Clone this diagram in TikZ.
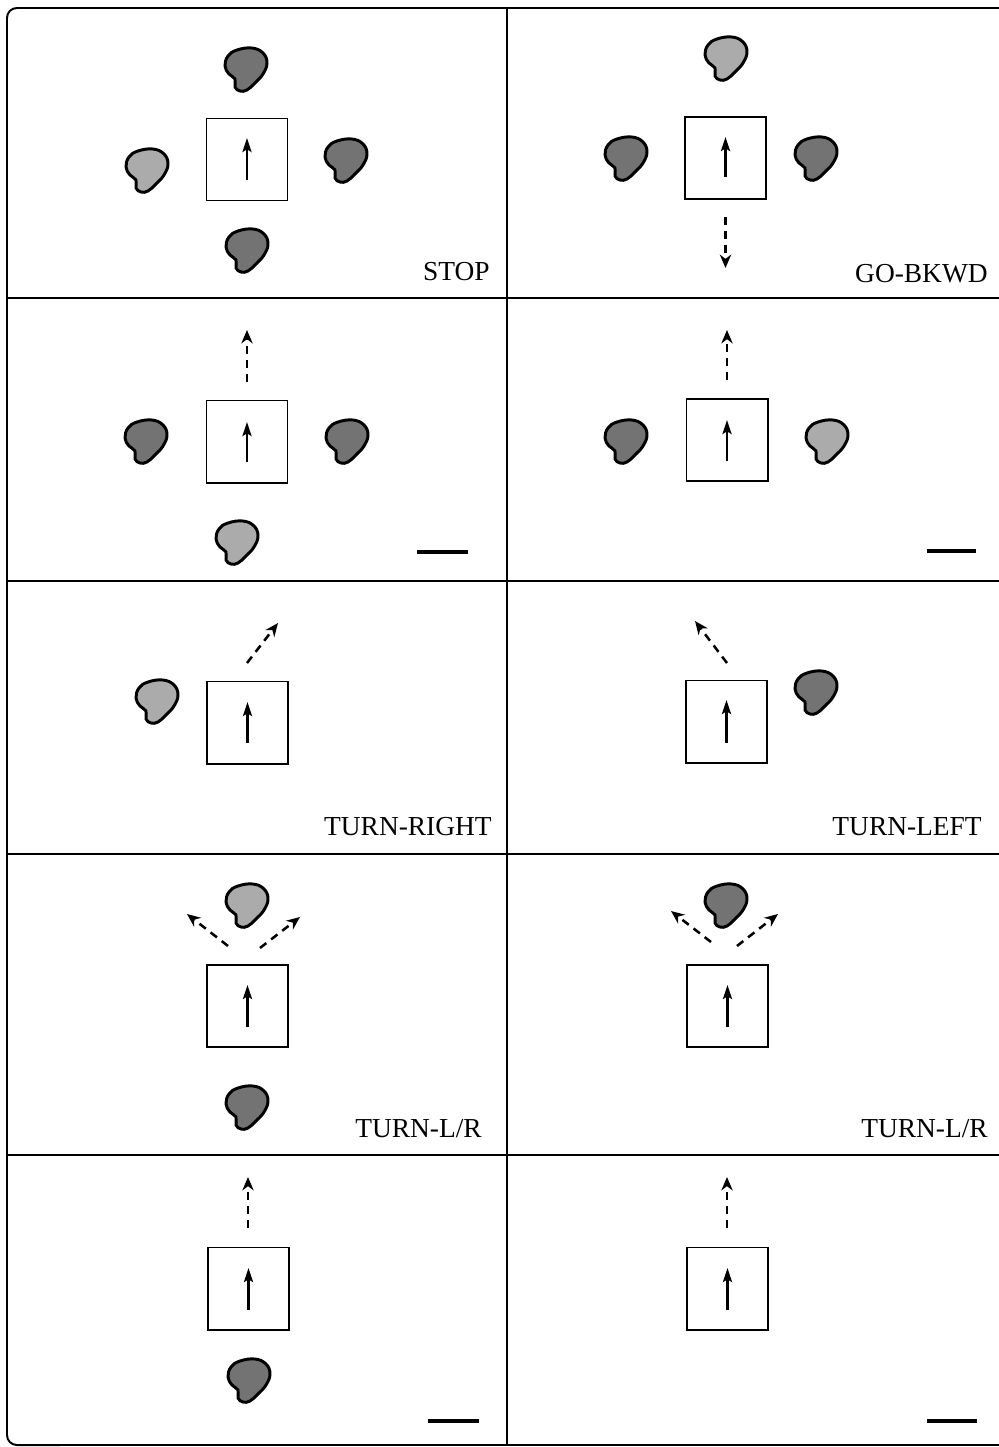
\documentclass[tikz,border=0pt]{standalone}
\usepackage{fontspec}
\setmainfont{Liberation Serif}
\usetikzlibrary{arrows.meta,calc}
\colorlet{dk}{black!55}
\colorlet{lt}{black!33}
\tikzset{
  pics/blob/.style={code={
    \draw[line width=2.1pt, fill=#1]
      plot[smooth cycle, tension=0.7] coordinates {(-9,-19) (6,-21) (17,-16) (21,-6) (17,5) (9,14) (1,21) (-6,22) (-11,18) (-11,10) (-17,5) (-21,-3) (-18,-13)};
  }},
  pics/blob/.default=dk,
  sq/.style={draw, line width=1.4pt, minimum width=2.025cm, minimum height=2.05cm, inner sep=0pt},
  inarrow/.style={line width=1.8pt, -{Stealth[length=10pt,width=6.5pt,inset=2pt]}},
  dasharrow/.style={line width=1.8pt, dash pattern=on 5.7pt off 4.3pt, -{Stealth[length=9.5pt,width=8pt,inset=3pt]}},
  frame/.style={line width=1.4pt},
  scalebar/.style={line width=2.2pt},
  lab/.style={anchor=base east, inner sep=0pt, font=\fontsize{19.5pt}{22pt}\selectfont}
}
\begin{document}
\begin{tikzpicture}[x=0.025cm, y=-0.025cm]
\useasboundingbox (0,0) rectangle (999,1447);
% frame
\draw[frame, rounded corners=7pt] (60,8) -- (7,8) -- (7,1445) -- (60,1445);
\draw[frame] (59,8) -- (999,8);
\draw[frame] (59,1445) -- (999,1445);
\draw[frame] (7,298) -- (999,298);
\draw[frame] (7,581) -- (999,581);
\draw[frame] (7,854) -- (999,854);
\draw[frame] (7,1155) -- (999,1155);
\draw[frame] (507,8) -- (507,1445);

% Panel A: STOP
\node[sq] (sqA) at (247,159.5) {};
\draw[inarrow] ($(sqA.center)+(0,20.5)$) -- ($(sqA.center)+(0,-21.5)$);
\pic at (246,69) {blob=dk};
\pic at (147,170) {blob=lt};
\pic at (346,160) {blob=dk};
\pic at (247,250) {blob=dk};
\node[lab] (tA) at (490,280) {STOP};

% Panel B: GO-BKWD
\node[sq] (sqB) at (725.5,158) {};
\draw[inarrow] ($(sqB.center)+(0,19)$) -- ($(sqB.center)+(0,-21)$);
\pic at (726,58) {blob=lt};
\pic at (626,158) {blob=dk};
\pic at (816,158) {blob=dk};
\coordinate (bS) at (725.5,217);
\coordinate (bE) at (725.5,268);
\draw[dasharrow] (bS) -- (bE);
\node[lab] (tB) at (988,282) {GO-BKWD};

% Panel C
\node[sq] (sqC) at (247,441.5) {};
\draw[inarrow] ($(sqC.center)+(0,20.5)$) -- ($(sqC.center)+(0,-19.5)$);
\pic at (146,441) {blob=dk};
\pic at (347,441) {blob=dk};
\pic at (237,542) {blob=lt};
\coordinate (cS) at (247,382);
\coordinate (cE) at (247,330);
\draw[dasharrow] (cS) -- (cE);
\coordinate (cb1) at (417,552);
\coordinate (cb2) at (468,552);
\draw[scalebar] (cb1) -- (cb2);

% Panel D
\node[sq] (sqD) at (727,440) {};
\draw[inarrow] ($(sqD.center)+(0,21)$) -- ($(sqD.center)+(0,-20)$);
\pic at (626,441) {blob=dk};
\pic at (827,441) {blob=lt};
\coordinate (dS) at (727,380);
\coordinate (dE) at (727,330);
\draw[dasharrow] (dS) -- (dE);
\coordinate (db1) at (927,551);
\coordinate (db2) at (976,551);
\draw[scalebar] (db1) -- (db2);

% Panel E: TURN-RIGHT
\node[sq] (sqE) at (247.5,722.5) {};
\draw[inarrow] ($(sqE.center)+(0,20.5)$) -- ($(sqE.center)+(0,-20.5)$);
\pic at (157,701) {blob=lt};
\coordinate (eS) at (247,663);
\coordinate (eE) at (278,623);
\draw[dasharrow] (eS) -- (eE);
\node[lab] (tE) at (492,835) {TURN-RIGHT};

% Panel F: TURN-LEFT
\node[sq] (sqF) at (726.5,721.5) {};
\draw[inarrow] ($(sqF.center)+(0,21.5)$) -- ($(sqF.center)+(0,-21.5)$);
\pic at (816,692) {blob=dk};
\coordinate (fS) at (727,663);
\coordinate (fE) at (695,621);
\draw[dasharrow] (fS) -- (fE);
\node[lab] (tF) at (982,835) {TURN-LEFT};

% Panel G: TURN-L/R
\node[sq] (sqG) at (247.5,1006) {};
\draw[inarrow] ($(sqG.center)+(0,21)$) -- ($(sqG.center)+(0,-21)$);
\pic at (247,905) {blob=lt};
\pic at (247,1107) {blob=dk};
\coordinate (g1S) at (228,946);
\coordinate (g1E) at (187,914);
\coordinate (g2S) at (260,948);
\coordinate (g2E) at (300,917);
\draw[dasharrow] (g1S) -- (g1E);
\draw[dasharrow] (g2S) -- (g2E);
\node[lab] (tG) at (482,1137) {TURN-L/R};

% Panel H: TURN-L/R
\node[sq] (sqH) at (727.5,1006) {};
\draw[inarrow] ($(sqH.center)+(0,21)$) -- ($(sqH.center)+(0,-21)$);
\pic at (726,905) {blob=dk};
\coordinate (h1S) at (711,942);
\coordinate (h1E) at (671,911);
\coordinate (h2S) at (737,946);
\coordinate (h2E) at (778,914);
\draw[dasharrow] (h1S) -- (h1E);
\draw[dasharrow] (h2S) -- (h2E);
\node[lab] (tH) at (988,1137) {TURN-L/R};

% Panel I
\node[sq] (sqI) at (248.5,1288.5) {};
\draw[inarrow] ($(sqI.center)+(0,21.5)$) -- ($(sqI.center)+(0,-20.5)$);
\pic at (249,1380) {blob=dk};
\coordinate (iS) at (248,1228);
\coordinate (iE) at (248,1177);
\draw[dasharrow] (iS) -- (iE);
\coordinate (ib1) at (428,1421);
\coordinate (ib2) at (479,1421);
\draw[scalebar] (ib1) -- (ib2);

% Panel J
\node[sq] (sqJ) at (727.5,1288.5) {};
\draw[inarrow] ($(sqJ.center)+(0,21.5)$) -- ($(sqJ.center)+(0,-20.5)$);
\coordinate (jS) at (727,1228);
\coordinate (jE) at (727,1177);
\draw[dasharrow] (jS) -- (jE);
\coordinate (jb1) at (927,1421);
\coordinate (jb2) at (977,1421);
\draw[scalebar] (jb1) -- (jb2);
\end{tikzpicture}
\end{document}
